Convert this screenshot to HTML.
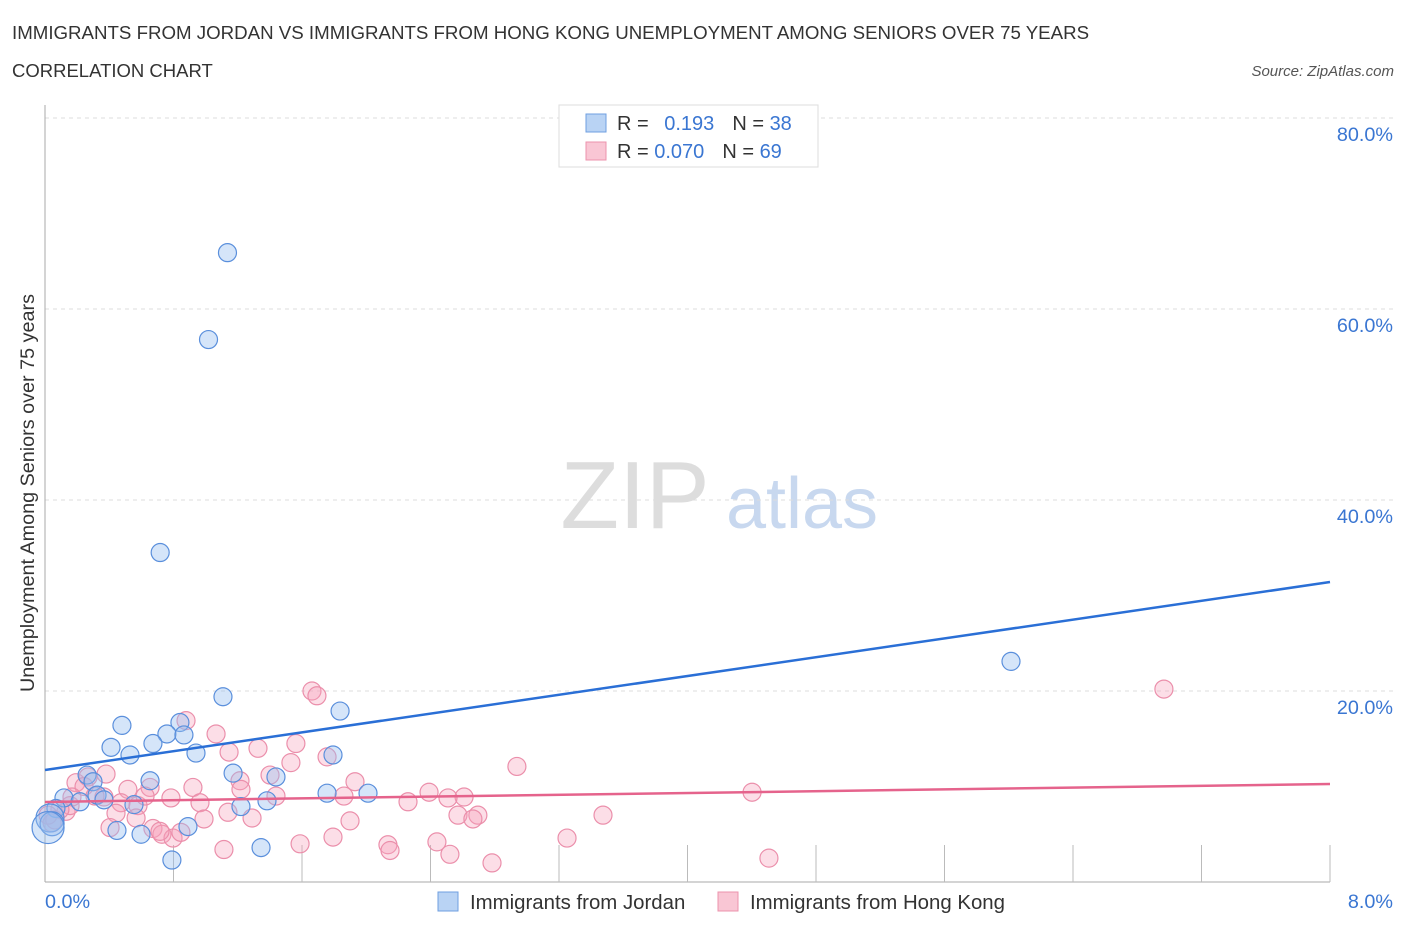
<!DOCTYPE html>
<html><head><meta charset="utf-8"><style>
body{margin:0;background:#fff;font-family:"Liberation Sans",sans-serif;}
svg text{font-family:"Liberation Sans",sans-serif;}
</style></head><body>
<svg id="c" width="1406" height="930">
<text x="12" y="39" font-size="18.7" fill="#333">IMMIGRANTS FROM JORDAN VS IMMIGRANTS FROM HONG KONG UNEMPLOYMENT AMONG SENIORS OVER 75 YEARS</text>
<text x="12" y="77" font-size="18.5" fill="#333">CORRELATION CHART</text>
<text x="1394" y="76" font-size="15" fill="#555" font-style="italic" text-anchor="end">Source: ZipAtlas.com</text>
<text x="635" y="528" font-size="96" fill="#ddd" font-family="Liberation Serif" text-anchor="middle">ZIP</text>
<text x="802" y="528" font-size="72" fill="#c8d8ef" text-anchor="middle">atlas</text>
<g id="grid"></g><g id="marks"></g>
<text x="34" y="493" font-size="19.8" fill="#333" text-anchor="middle" transform="rotate(-90 34 493)">Unemployment Among Seniors over 75 years</text>
<g>
<rect x="559" y="105" width="259" height="62" fill="#fff" stroke="#ddd"/>
<rect x="586" y="114" width="20" height="18" fill="#b9d3f4" stroke="#6f9fe0"/>
<rect x="586" y="142" width="20" height="18" fill="#f9c6d4" stroke="#ec93ad"/>
<text x="617" y="130" font-size="20" fill="#333">R = <tspan fill="#3a76d2" dx="10">0.193</tspan><tspan dx="18" fill="#333">N = </tspan><tspan fill="#3a76d2">38</tspan></text>
<text x="617" y="158" font-size="20" fill="#333">R = <tspan fill="#3a76d2">0.070</tspan><tspan dx="18" fill="#333">N = </tspan><tspan fill="#3a76d2">69</tspan></text>
</g>
<g>
<rect x="438" y="892" width="20" height="19" fill="#b9d3f4" stroke="#6f9fe0"/>
<text x="470" y="909" font-size="20.4" fill="#333">Immigrants from Jordan</text>
<rect x="718" y="892" width="20" height="19" fill="#f9c6d4" stroke="#ec93ad"/>
<text x="750" y="909" font-size="20.4" fill="#333">Immigrants from Hong Kong</text>
</g>
</svg>
<script>
const yTicks=[20,40,60,80];
const yTickLabels=["20.0%","40.0%","60.0%","80.0%"];
const xTickLabels=["0.0%","8.0%"];
const blueX=[1.136,1.018,0.717,6.014,1.108,1.837,0.479,0.840,0.759,0.865,0.411,0.672,0.529,0.940,1.793,1.171,1.438,0.654,0.262,0.299,0.118,0.324,0.367,0.218,1.756,2.011,1.382,1.220,0.554,0.068,0.448,0.598,0.890,0.790,1.345,0.031,0.044,0.019];
const blueY=[65.9,56.8,34.5,23.1,19.4,17.9,16.4,16.7,15.5,15.4,14.1,14.5,13.3,13.5,13.3,11.4,11.0,10.6,11.2,10.5,8.8,9.1,8.6,8.4,9.3,9.3,8.5,7.9,8.1,7.7,5.4,5.0,5.8,2.3,3.6,6.7,6.1,5.7];
const blueR=[9,9,9,9,9,9,9,9,9,9,9,9,9,9,9,9,9,9,9,9,9,9,9,9,9,9,9,9,9,9,9,9,9,9,9,14,12,16];
const pinkX=[6.966,1.662,1.693,0.878,1.065,1.562,2.938,1.326,1.146,1.531,1.756,0.380,0.193,0.268,0.921,1.930,1.401,0.243,1.214,0.516,0.654,0.367,0.473,0.579,0.784,0.965,0.623,2.391,2.609,2.509,2.260,1.861,1.438,1.220,4.402,0.442,0.567,1.139,1.289,0.990,1.899,2.571,2.695,2.664,3.474,0.405,0.672,0.728,0.797,0.846,0.131,0.062,0.156,1.588,1.793,2.135,2.148,2.440,2.521,3.250,1.114,2.783,4.507,0.093,0.311,0.019,0.044,0.716,0.168];
const pinkY=[20.2,20.0,19.5,16.9,15.5,14.5,12.1,14.0,13.6,12.5,13.1,11.3,10.4,11.0,9.9,10.5,11.2,10.0,10.6,9.7,9.9,8.9,8.3,8.0,8.8,8.3,9.0,9.4,8.9,8.8,8.4,9.0,9.0,9.7,9.4,7.2,6.7,7.3,6.7,6.6,6.4,7.0,7.0,6.6,7.0,5.7,5.6,5.0,4.6,5.2,7.4,6.5,8.0,4.0,4.7,3.9,3.3,4.2,2.9,4.6,3.4,2.0,2.5,7.6,9.0,7.0,6.2,5.3,8.9];
const trendIntercept=[11.73,8.38];
const trendEnd=[31.41,10.26];
const X0=45,X1=1330,Y0=882,PX=191/20;
const sx=v=>X0+v/8*(X1-X0), sy=v=>Y0-v*PX;
const NS="http://www.w3.org/2000/svg";
function mk(t,a,p){const e=document.createElementNS(NS,t);for(const k in a)e.setAttribute(k,a[k]);p.appendChild(e);return e;}
const g=document.getElementById('grid'),m=document.getElementById('marks');
yTicks.forEach((t,i)=>{
 const l=mk('line',{x1:X0,x2:1395,y1:sy(t),y2:sy(t),stroke:'#ddd','stroke-dasharray':'4,4'},g);
 
 
 const tx=mk('text',{x:1393,y:sy(t)+23,'font-size':19.8,fill:'#3a76d2','text-anchor':'end'},g);tx.textContent=yTickLabels[i];
 
 
});
const ax=mk('line',{x1:X0,x2:X0,y1:105,y2:Y0,stroke:'#aaa'},g);


const bx=mk('line',{x1:X0,x2:X1,y1:Y0,y2:Y0,stroke:'#aaa'},g);


for(let i=1;i<=10;i++){const t=mk('line',{x1:sx(i*0.8),x2:sx(i*0.8),y1:845,y2:Y0,stroke:'#bbb'},g);
 
 }
const xl=mk('text',{x:45,y:908,'font-size':19.8,fill:'#3a76d2'},g);xl.textContent=xTickLabels[0];


const xr=mk('text',{x:1393,y:908,'font-size':19.8,fill:'#3a76d2','text-anchor':'end'},g);xr.textContent=xTickLabels[1];


pinkX.forEach((x,i)=>{const c=mk('circle',{cx:sx(x),cy:sy(pinkY[i]),r:9,fill:'rgba(245,160,185,0.35)',stroke:'#eb8fab','stroke-width':1.2},m);
 
 });
blueX.forEach((x,i)=>{const c=mk('circle',{cx:sx(x),cy:sy(blueY[i]),r:blueR[i],fill:'rgba(150,190,240,0.4)',stroke:'#5a8fdc','stroke-width':1.2},m);
 
 });
const cols=['#2a6fd6','#e5638c'];
trendIntercept.forEach((v,i)=>{const l=mk('line',{x1:sx(0),y1:sy(v),x2:sx(8),y2:sy(trendEnd[i]),stroke:cols[i],'stroke-width':2.5},m);
 
 });
</script>
</body></html>
